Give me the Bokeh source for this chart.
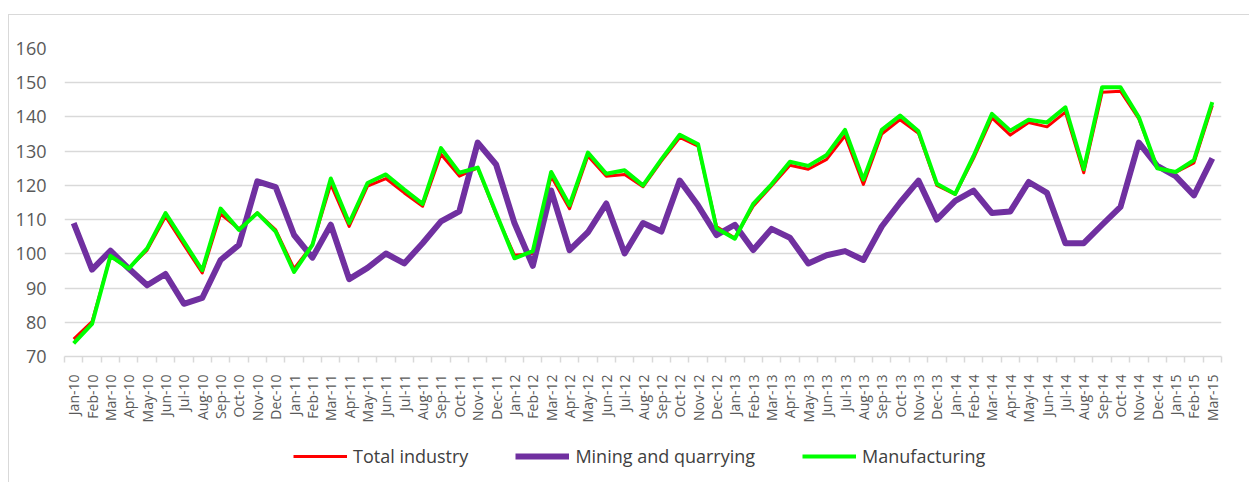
from math import pi
from bokeh.plotting import figure
from bokeh.layouts import column
from bokeh.models import FixedTicker, Legend, LegendItem, Range1d
from bokeh.embed import file_html
from bokeh.resources import INLINE

months = ["Jan-10", "Feb-10", "Mar-10", "Apr-10", "May-10", "Jun-10", "Jul-10", "Aug-10", "Sep-10", "Oct-10", "Nov-10", "Dec-10",
          "Jan-11", "Feb-11", "Mar-11", "Apr-11", "May-11", "Jun-11", "Jul-11", "Aug-11", "Sep-11", "Oct-11", "Nov-11", "Dec-11",
          "Jan-12", "Feb-12", "Mar-12", "Apr-12", "May-12", "Jun-12", "Jul-12", "Aug-12", "Sep-12", "Oct-12", "Nov-12", "Dec-12",
          "Jan-13", "Feb-13", "Mar-13", "Apr-13", "May-13", "Jun-13", "Jul-13", "Aug-13", "Sep-13", "Oct-13", "Nov-13", "Dec-13",
          "Jan-14", "Feb-14", "Mar-14", "Apr-14", "May-14", "Jun-14", "Jul-14", "Aug-14", "Sep-14", "Oct-14", "Nov-14", "Dec-14",
          "Jan-15", "Feb-15", "Mar-15"]

total_industry = [75.1, 80.2, 99.2, 95.8, 101.1, 110.9, 102.6, 94.4, 111.6, 107.3,
                  112.0, 107.0, 95.7, 102.6, 120.3, 108.0, 119.8, 122.0, 117.8, 113.9,
                  129.1, 122.7, 125.1, 111.5, 99.6, 100.1, 122.7, 113.2, 128.6, 122.7,
                  123.2, 119.6, 127.1, 134.0, 131.5, 108.0, 104.6, 113.9, 119.8, 125.9,
                  124.7, 127.6, 134.5, 120.3, 135.0, 139.2, 135.2, 120.0, 117.4, 127.9,
                  139.7, 134.7, 138.4, 137.1, 141.4, 123.7, 147.2, 147.5, 139.4, 125.2,
                  123.8, 126.6, 143.3]

mining = [109.0, 95.4, 100.9, 95.7, 90.8, 94.1, 85.4, 87.1, 98.2, 102.6,
          121.2, 119.5, 105.5, 98.9, 108.5, 92.6, 95.9, 100.1, 97.2, 103.1,
          109.5, 112.4, 132.5, 126.1, 109.0, 96.5, 118.5, 101.1, 106.3, 114.7,
          100.1, 109.0, 106.5, 121.4, 114.1, 105.5, 108.5, 101.1, 107.3, 104.7,
          97.2, 99.6, 100.8, 98.2, 108.0, 115.0, 121.4, 110.0, 115.5, 118.5,
          111.9, 112.4, 121.0, 117.8, 103.1, 103.1, 108.5, 113.7, 132.5, 125.7,
          122.7, 117.1, 127.9]

manufacturing = [73.8, 79.5, 99.4, 95.7, 101.6, 111.9, 103.6, 95.2, 113.2, 107.0,
                 111.9, 106.5, 94.7, 102.6, 122.0, 109.0, 120.7, 123.2, 118.8, 114.6,
                 130.9, 123.7, 125.2, 111.9, 98.7, 100.8, 123.9, 114.2, 129.6, 123.4,
                 124.4, 120.0, 127.6, 134.8, 132.0, 107.5, 104.4, 114.6, 120.3, 126.9,
                 125.7, 128.9, 136.2, 121.7, 136.2, 140.4, 135.8, 120.5, 117.5, 128.6,
                 140.9, 136.0, 139.2, 138.4, 142.8, 124.7, 148.7, 148.7, 139.9, 125.0,
                 123.9, 127.4, 144.3]

y_ticks = [70, 80, 90, 100, 110, 120, 130, 140, 150, 160]
series_names = ["Total industry", "Mining and quarrying", "Manufacturing"]
series_colors = ["#FF0000", "#7030A0", "#00FF00"]
series_widths = [3, 6, 4]
series_values = [total_industry, mining, manufacturing]

x = list(range(len(months)))

p = figure(frame_width=1157, frame_height=308, output_backend="svg", toolbar_location=None,
           x_range=Range1d(-0.5, len(months) - 0.5), y_range=Range1d(y_ticks[0], y_ticks[-1]),
           min_border_left=55, min_border_right=28, min_border_top=33, min_border_bottom=0)
p.outline_line_color = None
p.background_fill_color = "white"
p.border_fill_color = "white"

for vals, c, w in zip(series_values, series_colors, series_widths):
    p.line(x, vals, line_color=c, line_width=w, line_join="round")

# x axis
p.xaxis.ticker = FixedTicker(ticks=x, minor_ticks=[i - 0.5 for i in range(len(months) + 1)])
p.xaxis.major_label_overrides = {i: m for i, m in enumerate(months)}
p.xaxis.major_label_orientation = pi / 2
p.xaxis.major_tick_line_color = None
p.xaxis.major_tick_out = 0
p.xaxis.major_tick_in = 0
p.xaxis.minor_tick_out = 6
p.xaxis.minor_tick_in = 0
p.xaxis.minor_tick_line_color = "#d9d9d9"
p.xaxis.minor_tick_line_width = 1.5
p.xaxis.axis_line_color = "#d9d9d9"
p.xaxis.axis_line_width = 1.5
p.xaxis.major_label_standoff = 12
p.xaxis.major_label_text_font = "Open Sans"
p.xaxis.major_label_text_font_size = "14px"
p.xaxis.major_label_text_color = "#595959"
p.xgrid.visible = False

# y axis
p.yaxis.ticker = FixedTicker(ticks=y_ticks)
p.yaxis.axis_line_color = None
p.yaxis.major_tick_line_color = None
p.yaxis.minor_tick_line_color = None
p.yaxis.major_tick_out = 0
p.yaxis.major_label_standoff = 18
p.yaxis.major_label_text_font = "Open Sans"
p.yaxis.major_label_text_font_size = "18px"
p.yaxis.major_label_text_color = "#595959"
p.ygrid.ticker = FixedTicker(ticks=y_ticks)
p.ygrid.grid_line_color = "#d9d9d9"
p.ygrid.grid_line_width = 1.5

# legend strip below the chart (its series lie outside its own view, only the key shows)
p2 = figure(width=1240, height=61, output_backend="svg", toolbar_location=None,
            x_axis_type=None, y_axis_type=None,
            x_range=Range1d(-0.5, len(months) - 0.5), y_range=Range1d(0, 1),
            min_border_left=0, min_border_right=0, min_border_top=0, min_border_bottom=0)
p2.outline_line_color = None
p2.grid.visible = False
p2.background_fill_color = "white"
p2.border_fill_color = "white"
items = []
for name, vals, c, w in zip(series_names, series_values, series_colors, series_widths):
    r = p2.line(x, vals, line_color=c, line_width=w)
    items.append(LegendItem(label=name, renderers=[r]))

legend = Legend(items=items, orientation="horizontal", location=(229, 18))
legend.border_line_color = None
legend.background_fill_alpha = 0
legend.glyph_width = 54
legend.glyph_height = 20
legend.label_standoff = 6
legend.spacing = 47
legend.padding = 0
legend.margin = 0
legend.label_text_font = "Open Sans"
legend.label_text_font_size = "18px"
legend.label_text_color = "#404040"
p2.add_layout(legend, "center")

layout = column(p, p2, spacing=0)
layout.margin = (14, 0, 0, 8)
layout.styles = {"border-left": "1px solid #d9d9d9", "border-top": "1px solid #d9d9d9"}

open("out.html", "w").write(file_html(layout, INLINE))
